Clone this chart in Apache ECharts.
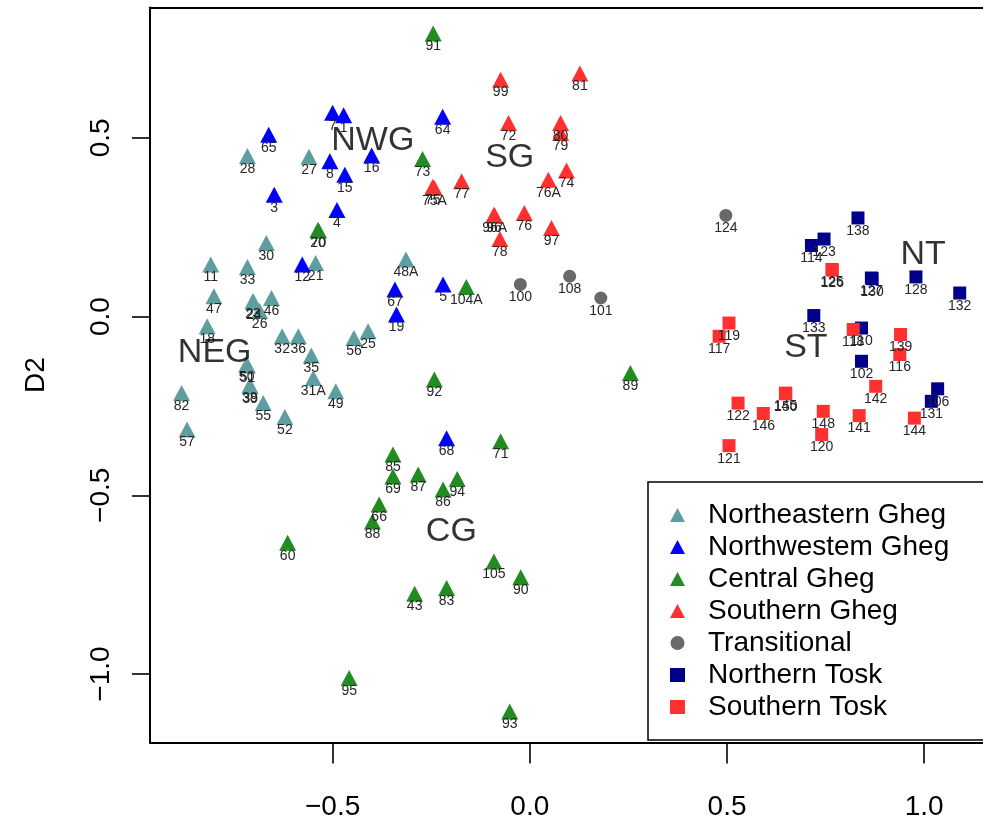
<!DOCTYPE html>
<html><head><meta charset="utf-8">
<script src="https://cdn.jsdelivr.net/npm/echarts@6/dist/echarts.min.js"></script>
<style>html,body{margin:0;padding:0;background:#fff}#c{width:983px;height:826px}</style>
</head><body><div id="c"></div>
<script>
// Axis ranges and tick values
const xRange = [-0.963, 1.149];
const yRange = [-1.1915, 0.8648];
const xTicks = [-0.5, 0, 0.5, 1.0];
const yTicks = [-1.0, -0.5, 0, 0.5];

// [x, y, label]
const northeasternGheg = [
  [-0.716,0.449,'28'],[-0.560,0.447,'27'],[-0.668,0.206,'30'],[-0.809,0.146,'11'],[-0.716,0.139,'33'],
  [-0.543,0.150,'21'],[-0.314,0.160,'48A'],[-0.801,0.057,'47'],[-0.655,0.052,'46'],[-0.702,0.044,'23'],
  [-0.700,0.040,'24'],[-0.685,0.016,'26'],[-0.818,-0.027,'18'],[-0.628,-0.055,'32'],[-0.587,-0.055,'36'],
  [-0.446,-0.060,'56'],[-0.410,-0.041,'25'],[-0.554,-0.109,'35'],[-0.718,-0.134,'50'],[-0.716,-0.137,'51'],
  [-0.549,-0.172,'31A'],[-0.710,-0.193,'38'],[-0.709,-0.195,'39'],[-0.492,-0.209,'49'],[-0.883,-0.214,'82'],
  [-0.676,-0.242,'55'],[-0.621,-0.281,'52'],[-0.869,-0.316,'57']
];
const northwesternGheg = [
  [-0.500,0.570,'7'],[-0.472,0.563,'1'],[-0.221,0.559,'64'],[-0.662,0.509,'65'],[-0.507,0.435,'8'],
  [-0.469,0.397,'15'],[-0.401,0.451,'16'],[-0.648,0.341,'3'],[-0.489,0.298,'4'],[-0.577,0.146,'12'],
  [-0.342,0.076,'67'],[-0.220,0.090,'5'],[-0.338,0.006,'19'],[-0.211,-0.340,'68']
];
const centralGheg = [
  [-0.245,0.792,'91'],[-0.272,0.441,'73'],[-0.537,0.243,'20'],[-0.536,0.241,'70'],[-0.161,0.083,'104A'],
  [-0.242,-0.176,'92'],[0.255,-0.158,'89'],[-0.074,-0.349,'71'],[-0.347,-0.386,'85'],[-0.347,-0.447,'69'],
  [-0.283,-0.442,'87'],[-0.184,-0.454,'94'],[-0.220,-0.484,'86'],[-0.382,-0.526,'66'],[-0.399,-0.573,'88'],
  [-0.091,-0.685,'105'],[-0.023,-0.729,'90'],[-0.292,-0.775,'43'],[-0.211,-0.759,'83'],[-0.458,-1.011,'95'],
  [-0.051,-1.105,'93'],[-0.614,-0.633,'60']
];
const southernGheg = [
  [-0.074,0.663,'99'],[0.127,0.680,'81'],[-0.054,0.542,'72'],[0.078,0.542,'80'],[0.078,0.514,'79'],
  [0.093,0.409,'74'],[0.047,0.383,'76A'],[-0.246,0.363,'75'],[-0.242,0.360,'75A'],[-0.173,0.379,'77'],
  [-0.091,0.285,'96'],[-0.089,0.283,'96A'],[-0.014,0.290,'76'],[-0.076,0.217,'78'],[0.055,0.248,'97']
];
const transitional = [
  [-0.024,0.090,'100'],[0.101,0.113,'108'],[0.180,0.052,'101'],[0.497,0.283,'124']
];
const northernTosk = [
  [0.832,0.276,'138'],[0.746,0.217,'123'],[0.714,0.199,'114'],[0.866,0.108,'127'],[0.868,0.106,'130'],
  [0.979,0.111,'128'],[1.090,0.066,'132'],[0.720,0.003,'133'],[0.841,-0.032,'110'],[0.841,-0.125,'102'],
  [1.034,-0.202,'106'],[1.018,-0.237,'131']
];
const southernTosk = [
  [0.766,0.132,'125'],[0.767,0.130,'126'],[0.505,-0.018,'119'],[0.480,-0.055,'117'],[0.820,-0.036,'118'],
  [0.940,-0.050,'139'],[0.938,-0.106,'116'],[0.877,-0.195,'142'],[0.975,-0.284,'144'],[0.528,-0.242,'122'],
  [0.592,-0.271,'146'],[0.648,-0.214,'145'],[0.649,-0.216,'150'],[0.744,-0.265,'148'],[0.740,-0.330,'120'],
  [0.835,-0.277,'141'],[0.505,-0.361,'121']
];
const groupLabels = [
  [-0.398,0.493,'NWG'],[-0.051,0.445,'SG'],[-0.799,-0.100,'NEG'],[-0.199,-0.601,'CG'],[0.997,0.174,'NT'],[0.700,-0.088,'ST']
];

const FONT = "'Liberation Sans', Arial, Helvetica, sans-serif";
const fmt = v => (v < 0 ? '\u2212' : '') + Math.abs(v).toFixed(1);
const frameLine = { show: true, onZero: false, lineStyle: { color: '#000', width: 2 } };
const tickLine = { color: '#000', width: 1.6 };

function ptSeries(name, data, symbol, size, color) {
  return {
    name, type: 'scatter', data, symbol, symbolSize: size,
    itemStyle: { color, opacity: 1 },
    label: { show: true, position: 'inside', offset: [0, 13], formatter: p => p.data[2],
      fontSize: 14, color: '#262626', fontFamily: FONT },
    emphasis: { disabled: true }
  };
}

const chart = echarts.init(document.getElementById('c'), null, { renderer: 'canvas' });
chart.setOption({
  animation: false,
  backgroundColor: '#fff',
  grid: { left: 150, top: 7.5, width: 833, height: 735, show: false },
  xAxis: [{
    type: 'value', position: 'bottom', min: xRange[0], max: xRange[1],
    axisLine: frameLine, splitLine: { show: false },
    axisTick: { show: true, inside: false, length: 21, customValues: xTicks, lineStyle: tickLine },
    axisLabel: { customValues: xTicks, formatter: fmt, fontSize: 28, color: '#000', fontFamily: FONT, margin: 51 }
  }, {
    type: 'value', position: 'top', min: xRange[0], max: xRange[1],
    axisLine: frameLine, splitLine: { show: false }, axisTick: { show: false }, axisLabel: { show: false }
  }],
  yAxis: {
    type: 'value', position: 'left', min: yRange[0], max: yRange[1],
    name: 'D2', nameLocation: 'middle', nameRotate: 90, nameGap: 100,
    nameTextStyle: { fontSize: 28, color: '#000', fontFamily: FONT },
    axisLine: frameLine, splitLine: { show: false },
    axisTick: { show: true, inside: false, length: 18, customValues: yTicks, lineStyle: tickLine },
    axisLabel: { customValues: yTicks, formatter: fmt, rotate: 90, fontSize: 28, color: '#000', fontFamily: FONT, margin: 35 }
  },
  legend: {
    orient: 'vertical', left: 648, top: 482, padding: [19, 80, 19, 22], itemGap: 4,
    itemWidth: 15, itemHeight: 14, borderColor: '#000', borderWidth: 1.5, backgroundColor: '#fff',
    selectedMode: false,
    textStyle: { fontSize: 28, lineHeight: 28, color: '#000', fontFamily: FONT, padding: [0, 0, 0, 18] },
    data: ['Northeastern Gheg','Northwestem Gheg','Central Gheg','Southern Gheg','Transitional','Northern Tosk','Southern Tosk']
  },
  series: [
    ptSeries('Northeastern Gheg', northeasternGheg, 'triangle', [17, 16], '#5F9EA0'),
    ptSeries('Northwestem Gheg', northwesternGheg, 'triangle', [17, 16], '#0000FF'),
    ptSeries('Central Gheg', centralGheg, 'triangle', [17, 16], '#228B22'),
    ptSeries('Southern Gheg', southernGheg, 'triangle', [17, 16], '#FF3030'),
    ptSeries('Transitional', transitional, 'circle', 13, '#696969'),
    ptSeries('Northern Tosk', northernTosk, 'rect', 13, '#00008B'),
    ptSeries('Southern Tosk', southernTosk, 'rect', 13, '#FF3030'),
    {
      name: 'groups', type: 'scatter', data: groupLabels, symbolSize: 1, silent: true, z: 10,
      itemStyle: { color: 'rgba(0,0,0,0)' },
      label: { show: true, position: 'inside', formatter: p => p.data[2], fontSize: 34, color: '#000', fontFamily: FONT }
    }
  ]
});
</script></body></html>
